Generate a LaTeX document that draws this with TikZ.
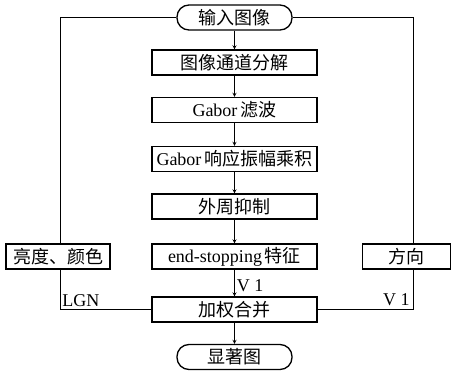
\documentclass[tikz,border=0pt]{standalone}
\usepackage{fontspec}
\setmainfont{Liberation Serif}
\newfontfamily\cjk{Noto Sans CJK SC}
\usetikzlibrary{positioning}

\begin{document}
\begin{tikzpicture}[->,>=stealth,x=1pt,y=1pt,node distance=47.5pt,line width=0.8pt,
  font=\fontsize{18}{20}\selectfont,
  step node/.style={draw,rectangle,line width=1.3pt,minimum width=165pt,minimum height=25pt,inner sep=1pt},
  end node/.style={draw,rectangle,line width=1.3pt,rounded corners=12pt,minimum width=115pt,minimum height=25pt,inner sep=1pt},
  side node/.style={draw,rectangle,line width=1.3pt,minimum height=25pt,inner sep=1pt}]
                \useasboundingbox (0,0) rectangle (456,-372);

                \node[end node] (input) at (234.5,-17.5) {\cjk 输入图像};
                \node[step node] (split) [below of=input, node distance=45pt] {\cjk 图像通道分解};
                \node[step node] (gabor) [below of=split] {Gabor\,{\cjk 滤波}};
                \node[step node] (prod) [below of=gabor, node distance=49pt] {Gabor\,{\cjk 响应振幅乘积}};
                \node[step node] (surr) [below of=prod] {\cjk 外周抑制};
                \node[step node] (endstop) [below of=surr, node distance=50pt] {end-stopping\,{\cjk 特征}};
                \node[step node] (merge) [below of=endstop, node distance=53pt] {\cjk 加权合并};
                \node[end node] (salmap) [below of=merge] {\cjk 显著图};
                \node[side node, minimum width=104pt] (lum) [left of=endstop, node distance=176.5pt] {\cjk 亮度、颜色};
                \node[side node, minimum width=88pt] (orient) [right of=endstop, node distance=172pt] {\cjk 方向};

                \path
                    (input) edge (split)
                    (split) edge (gabor)
                    (gabor) edge (prod)
                    (prod) edge (surr)
                    (surr) edge (endstop)
                    (endstop) edge node[right, pos=0.6, inner sep=2pt] {V 1} (merge)
                    (merge) edge (salmap)
                    ;

                \draw[-] (input.west) -| ([xshift=2pt]lum.north);
                \draw[-] (input.east) -| ([xshift=6.5pt]orient.north);
                \draw[-] ([xshift=2pt]lum.south) |- (merge.west) node[pos=0.5, above right, inner sep=2pt] {LGN};
                \draw[-] ([xshift=6.5pt]orient.south) |- (merge.east) node[pos=0.5, above left, inner sep=3pt] {V 1};

            \end{tikzpicture}
\end{document}
